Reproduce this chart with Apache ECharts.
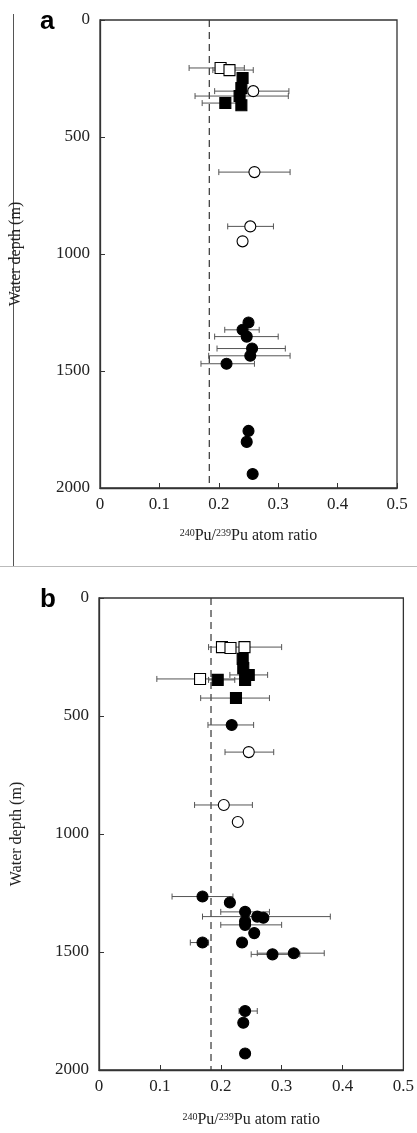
<!DOCTYPE html>
<html><head><meta charset="utf-8">
<script src="https://cdn.jsdelivr.net/npm/echarts@6/dist/echarts.min.js"></script>
<style>html,body{margin:0;padding:0;background:#fff}#c{width:417px;height:1133px}</style>
</head><body><div id="c"></div>
<script>
// ---------- data ----------
const xTickValues = [0, 0.1, 0.2, 0.3, 0.4, 0.5];
const yTickValues = [0, 500, 1000, 1500, 2000];
const refRatio = 0.184; // dashed reference line

// Panel a  (fc filled circle, oc open circle, fs filled square, os open square)
const aType  = ['os','os','fs','fs','fs','fs','fs','oc','oc','oc','oc','fc','fc','fc','fc','fc','fc','fc','fc','fc'];
const aDepth = [205, 214, 248, 291, 325, 364, 355, 304, 650, 882, 946, 1293, 1324, 1353, 1404, 1435, 1469, 1756, 1803, 1940];
const aRatio = [0.203, 0.218, 0.240, 0.238, 0.235, 0.238, 0.211, 0.258, 0.260, 0.253, 0.240, 0.250, 0.240, 0.247, 0.256, 0.253, 0.213, 0.250, 0.247, 0.257];
const aLo    = [0.150, 0.190, null, null, 0.160, null, 0.172, 0.193, 0.200, 0.215, null, null, 0.210, 0.193, 0.197, 0.183, 0.170, 0.243, 0.240, null];
const aHi    = [0.243, 0.258, null, null, 0.317, null, 0.240, 0.318, 0.320, 0.292, null, null, 0.268, 0.300, 0.312, 0.320, 0.260, 0.257, 0.255, null];

// Panel b
const bType  = ['os','os','os','fs','fs','fs','fs','os','fs','fs','fc','oc','oc','oc','fc','fc','fc','fc','fc','fc','fc','fc','fc','fc','fc','fc','fc','fc','fc'];
const bDepth = [208, 212, 208, 258, 297, 326, 347, 343, 347, 424, 538, 653, 877, 949, 1265, 1290, 1330, 1350, 1355, 1370, 1385, 1420, 1460, 1460, 1510, 1505, 1750, 1800, 1930];
const bRatio = [0.202, 0.216, 0.239, 0.236, 0.237, 0.246, 0.240, 0.166, 0.195, 0.225, 0.218, 0.246, 0.205, 0.228, 0.170, 0.215, 0.240, 0.260, 0.270, 0.240, 0.240, 0.255, 0.170, 0.235, 0.285, 0.320, 0.240, 0.237, 0.240];
const bLo    = [0.180, null, 0.215, null, null, 0.215, null, 0.095, 0.180, 0.167, 0.179, 0.207, 0.157, null, 0.120, null, 0.200, 0.170, null, null, 0.200, null, 0.150, null, 0.250, 0.260, 0.230, null, null];
const bHi    = [0.215, null, 0.300, null, null, 0.277, null, 0.235, 0.223, 0.280, 0.254, 0.287, 0.252, null, 0.220, null, 0.280, 0.380, null, null, 0.300, null, 0.180, null, 0.330, 0.370, 0.260, null, null];

// ---------- chart ----------
const serif = '"Liberation Serif","DejaVu Serif",serif';
const styles = {
  fc: {symbol: 'circle', color: '#000'},
  oc: {symbol: 'circle', color: '#fff'},
  fs: {symbol: 'rect', color: '#000'},
  os: {symbol: 'rect', color: '#fff'}
};

function makeAxes(idx, nameGapX, nameGapY) {
  const x = {
    type: 'value', gridIndex: idx, min: 0, max: 0.5, interval: 0.1,
    axisLine: {show: true, onZero: false, lineStyle: {color: '#333', width: 1.3}},
    axisTick: {show: true, inside: true, length: 5, lineStyle: {color: '#333'}},
    splitLine: {show: false},
    axisLabel: {fontFamily: serif, fontSize: 17, color: '#222', margin: 8,
      formatter: v => (v === 0 ? '0' : v.toFixed(1))},
    name: '{n|240}{p|Pu/}{n|239}{p|Pu atom ratio}',
    nameLocation: 'middle', nameGap: nameGapX,
    nameTextStyle: {rich: {
      n: {fontFamily: serif, fontSize: 10, color: '#222', verticalAlign: 'top', padding: [0,0,6,0]},
      p: {fontFamily: serif, fontSize: 16, color: '#222'}
    }}
  };
  const y = {
    type: 'value', gridIndex: idx, min: 0, max: 2000, interval: 500, inverse: true,
    axisLine: {show: true, onZero: false, lineStyle: {color: '#333', width: 1.3}},
    axisTick: {show: true, inside: true, length: 5, lineStyle: {color: '#333'}},
    splitLine: {show: false},
    axisLabel: {fontFamily: serif, fontSize: 17, color: '#222', margin: 10,
      formatter: v => String(v)},
    name: 'Water depth (m)', nameLocation: 'middle', nameGap: nameGapY, nameRotate: 90,
    nameTextStyle: {fontFamily: serif, fontSize: 16, color: '#222'}
  };
  return {x, y};
}

function panelSeries(idx, type, depth, ratio, lo, hi) {
  const series = [];
  const err = [];
  for (let i = 0; i < depth.length; i++) {
    if (lo[i] != null) err.push([lo[i], hi[i], depth[i]]);
  }
  series.push({
    type: 'custom', xAxisIndex: idx, yAxisIndex: idx, z: 2,
    data: err,
    renderItem: function (params, api) {
      const a = api.coord([api.value(0), api.value(2)]);
      const b = api.coord([api.value(1), api.value(2)]);
      const h = 3;
      const st = {stroke: '#555', lineWidth: 1};
      return {type: 'group', children: [
        {type: 'line', shape: {x1: a[0], y1: a[1], x2: b[0], y2: b[1]}, style: st},
        {type: 'line', shape: {x1: a[0], y1: a[1]-h, x2: a[0], y2: a[1]+h}, style: st},
        {type: 'line', shape: {x1: b[0], y1: b[1]-h, x2: b[0], y2: b[1]+h}, style: st}
      ]};
    }
  });
  series.push({
    type: 'line', xAxisIndex: idx, yAxisIndex: idx, z: 1, symbol: 'none', silent: true,
    data: [[refRatio, 0], [refRatio, 2000]],
    lineStyle: {color: '#333', width: 1.2, type: [7, 5]}
  });
  ['os', 'fs', 'oc', 'fc'].forEach(t => {
    const d = [];
    for (let i = 0; i < depth.length; i++) if (type[i] === t) d.push([ratio[i], depth[i]]);
    series.push({
      type: 'scatter', xAxisIndex: idx, yAxisIndex: idx, z: 3,
      symbol: styles[t].symbol, symbolSize: 11,
      itemStyle: {color: styles[t].color, borderColor: '#000', borderWidth: 1.1, opacity: 1},
      data: d
    });
  });
  return series;
}

const A = makeAxes(0, 40, 76);
const B = makeAxes(1, 42, 74);

const chart = echarts.init(document.getElementById('c'), null, {renderer: 'canvas'});
chart.setOption({
  animation: false,
  backgroundColor: '#fff',
  grid: [
    {left: 97, top: 20, width: 300, height: 468, show: true, borderColor: '#333', borderWidth: 1.3},
    {left: 99, top: 598, width: 306, height: 472, show: true, borderColor: '#333', borderWidth: 1.3}
  ],
  xAxis: [A.x, B.x],
  yAxis: [A.y, B.y],
  graphic: [
    {type: 'text', left: 40, top: 9, style: {text: 'a', font: 'bold 26px "Liberation Sans", Arial, sans-serif', fill: '#000'}},
    {type: 'text', left: 40, top: 587, style: {text: 'b', font: 'bold 26px "Liberation Sans", Arial, sans-serif', fill: '#000'}},
    {type: 'line', shape: {x1: 13.5, y1: 14, x2: 13.5, y2: 566}, style: {stroke: '#555', lineWidth: 1}},
    {type: 'line', shape: {x1: 0, y1: 566.5, x2: 417, y2: 566.5}, style: {stroke: '#bbb', lineWidth: 1}}
  ],
  series: panelSeries(0, aType, aDepth, aRatio, aLo, aHi).concat(panelSeries(1, bType, bDepth, bRatio, bLo, bHi))
});
</script></body></html>
